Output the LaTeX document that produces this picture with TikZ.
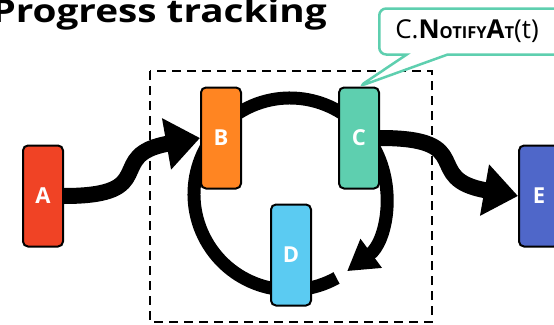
\documentclass[tikz,border=0pt]{standalone}
\usepackage{fontspec}
\setmainfont{Open Sans}
\usetikzlibrary{arrows.meta,shapes.callouts,backgrounds}
\definecolor{cA}{HTML}{F04325}
\definecolor{cB}{HTML}{FF8522}
\definecolor{cC}{HTML}{5ECFAF}
\definecolor{cD}{HTML}{5BCBF2}
\definecolor{cE}{HTML}{4F67C9}
\begin{document}
\begin{tikzpicture}[x=1pt,y=1pt,
  blk/.style={draw=black, line width=2pt, rounded corners=5pt, minimum width=40pt, minimum height=101pt, inner sep=0pt, text=white, font=\fontsize{22}{22}\selectfont\bfseries},
  flow/.style={line width=16pt, -{Triangle[width=50pt,length=34pt]}},
  ring/.style={line width=13pt, -{Triangle[width=34pt,length=30pt]}},
  frame/.style={line width=2.5pt, dash pattern=on 9pt off 6pt},
  note/.style={rectangle callout, draw=cC, line width=2.5pt, fill=white, rounded corners=7pt, minimum height=46pt, text width=150pt, inner xsep=16pt, align=left}]
\useasboundingbox (0,0) rectangle (554,-324);
\node[anchor=base east, inner sep=0pt, font=\fontsize{32}{32}\selectfont\bfseries] (title) at (327,-23) {\scalebox{1.21}[1]{Progress tracking}};
\node[blk, fill=cA] (A) at (43,-196) {A};
\node[blk, fill=cB] (B) at (221,-138) {B};
\node[blk, fill=cC] (C) at (359,-138) {C};
\node[blk, fill=cD] (D) at (291,-255) {D};
\node[blk, fill=cE] (E) at (539,-196) {E};
\coordinate (O) at (290,-194);
\begin{pgfonlayer}{background}
\draw[frame] (150,-71) rectangle (432,-322);
\draw[ring] (O) ++(-61:96) arc[start angle=-61, end angle=-413.5, radius=96];
\draw[flow] (A.east) to[out=0, in=190, looseness=1.7] (B.west);
\draw[flow] (C.east) to[out=0, in=170, looseness=1.7] (E.west);
\end{pgfonlayer}
\node[note, anchor=west, callout absolute pointer={(C.north)}, callout pointer width=41pt] (call) at (378,-31.5)
  {\fontsize{26}{26}\selectfont C.{\bfseries N{\fontsize{16.5}{16.5}\selectfont OTIFY}A{\fontsize{16.5}{16.5}\selectfont T}}(t)};
\end{tikzpicture}
\end{document}
